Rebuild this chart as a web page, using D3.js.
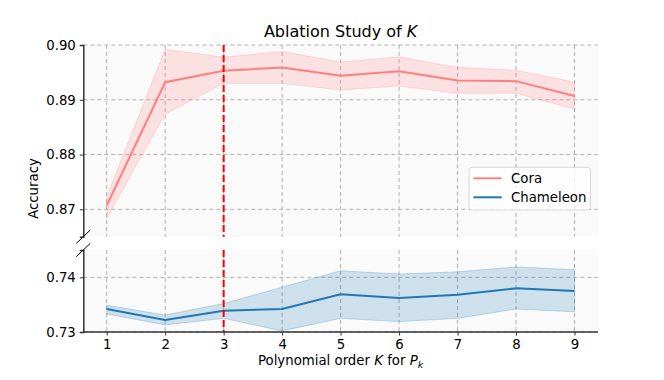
<!DOCTYPE html>
<html><head><meta charset="utf-8">
<script src="https://cdn.jsdelivr.net/npm/d3@7"></script>
<style>body{margin:0;background:#fff}svg{display:block;font-family:"DejaVu Sans",sans-serif}</style>
</head><body><svg id="c" width="664" height="380"></svg>
<script>
const ks = [1,2,3,4,5,6,7,8,9];
const coraMean = [0.8707,0.8932,0.8953,0.8959,0.8944,0.8952,0.8935,0.8934,0.8907];
const coraLow  = [0.8684,0.8874,0.8930,0.8930,0.8918,0.8925,0.8912,0.8912,0.8883];
const coraHigh = [0.8723,0.8992,0.8978,0.8988,0.8969,0.8978,0.8959,0.8954,0.8932];
const chamMean = [0.7342,0.7322,0.7339,0.7342,0.7369,0.7362,0.7368,0.7380,0.7375];
const chamLow  = [0.7333,0.7313,0.7325,0.7302,0.7325,0.7319,0.7325,0.7342,0.7337];
const chamHigh = [0.7349,0.7331,0.7352,0.7382,0.7412,0.7406,0.7410,0.7419,0.7414];
const xTicks = [1,2,3,4,5,6,7,8,9];
const topTicks = [0.87,0.88,0.89,0.90];
const botTicks = [0.73,0.74];
const seriesNames = ["Cora","Chameleon"];
const chosenK = 3;

const svg = d3.select("#c");
const L = 83.3, R = 597.9;
const x = d3.scaleLinear().domain([0.6,9.4]).range([L,R]);
const yT = d3.scaleLinear().domain([0.865,0.90]).range([236.7,45]);
const yB = d3.scaleLinear().domain([0.73,0.745]).range([332,250]);
const cCora = "#ff7f7f", cCham = "#1f77b4";
const spine = "#333";

function panel(y, ticks, fmt, mean, low, high, color, showX) {
  const [y0,y1] = y.range();
  const g = svg.append("g");
  g.append("rect").attr("x",L).attr("y",y1).attr("width",R-L).attr("height",y0-y1).attr("fill","#fafafa");
  g.selectAll(".gx").data(xTicks).join("line")
    .attr("x1",d=>x(d)).attr("x2",d=>x(d)).attr("y1",y1).attr("y2",y0)
    .attr("stroke","#b0b0b0").attr("stroke-width",1).attr("stroke-dasharray","4,3");
  g.selectAll(".gy").data(ticks).join("line")
    .attr("x1",L).attr("x2",R).attr("y1",d=>y(d)).attr("y2",d=>y(d))
    .attr("stroke","#b0b0b0").attr("stroke-width",1).attr("stroke-dasharray","4,3");
  const area = d3.area().x((d,i)=>x(ks[i])).y0((d,i)=>y(low[i])).y1((d,i)=>y(high[i]));
  g.append("path").attr("d",area(ks)).attr("fill",color).attr("fill-opacity",0.2)
    .attr("stroke",color).attr("stroke-opacity",0.25).attr("stroke-width",1);
  const line = d3.line().x((d,i)=>x(ks[i])).y((d,i)=>y(mean[i]));
  g.append("path").attr("d",line(ks)).attr("fill","none").attr("stroke",color).attr("stroke-width",2);
  g.append("line").attr("x1",x(chosenK)).attr("x2",x(chosenK)).attr("y1",y1).attr("y2",y0)
    .attr("stroke","red").attr("stroke-width",2).attr("stroke-dasharray","7,3");
  const ax = d3.axisLeft(y).tickValues(ticks).tickFormat(fmt).tickSize(3.5).tickPadding(4);
  const ag = g.append("g").attr("transform",`translate(${L},0)`).call(ax);
  ag.select(".domain").attr("stroke",spine).attr("stroke-width",1.5);
  ag.selectAll(".tick line").attr("stroke",spine).attr("stroke-width",1);
  ag.selectAll("text").attr("font-size","13.3px").attr("fill","#000").attr("font-family","DejaVu Sans");
  if (showX) {
    const bx = d3.axisBottom(x).tickValues(xTicks).tickFormat(d3.format("d")).tickSize(3.5).tickPadding(4);
    const bg = g.append("g").attr("transform",`translate(0,${y0})`).call(bx);
    bg.select(".domain").attr("stroke",spine).attr("stroke-width",1.5).attr("d",`M${L},0H${R}`);
    bg.selectAll(".tick line").attr("stroke",spine).attr("stroke-width",1);
    bg.selectAll("text").attr("font-size","13.3px").attr("fill","#000").attr("font-family","DejaVu Sans");
  }
}
panel(yT, topTicks, d3.format(".2f"), coraMean, coraLow, coraHigh, cCora, false);
panel(yB, botTicks, d3.format(".2f"), chamMean, chamLow, chamHigh, cCham, true);

[yT.range()[0], yB.range()[1]].forEach(cy=>{
  svg.append("line").attr("x1",L-7).attr("y1",cy+6.7).attr("x2",L+7).attr("y2",cy-6.7)
    .attr("stroke","#000").attr("stroke-width",1);
});

const t = svg.append("text").attr("x",(L+R)/2).attr("y",36.7).attr("text-anchor","middle")
  .attr("font-size","16px").attr("fill","#000");
t.append("tspan").text("Ablation Study of ");
t.append("tspan").attr("font-style","italic").text("K");

svg.append("text").attr("transform","translate(37.5,188.5) rotate(-90)").attr("text-anchor","middle")
  .attr("font-size","13.3px").text("Accuracy");

const xl = svg.append("text").attr("x",(L+R)/2).attr("y",365).attr("text-anchor","middle").attr("font-size","13.3px");
xl.append("tspan").text("Polynomial order ");
xl.append("tspan").attr("font-style","italic").text("K");
xl.append("tspan").text(" for ");
xl.append("tspan").attr("font-style","italic").text("P");
xl.append("tspan").attr("font-style","italic").attr("font-size","9.5px").attr("dy",3).text("k");

const lg = svg.append("g");
lg.append("rect").attr("x",469).attr("y",167.3).attr("width",121.5).attr("height",42.7).attr("rx",3)
  .attr("fill","#fff").attr("fill-opacity",0.8).attr("stroke","#d8d8d8").attr("stroke-width",1);
[cCora,cCham].forEach((c,i)=>{
  const yy = 178.3 + i*19;
  lg.append("line").attr("x1",473.3).attr("x2",501.7).attr("y1",yy).attr("y2",yy).attr("stroke",c).attr("stroke-width",2);
  lg.append("text").attr("x",511).attr("y",yy+4.7).attr("font-size","13.3px").text(seriesNames[i]);
});
</script></body></html>
